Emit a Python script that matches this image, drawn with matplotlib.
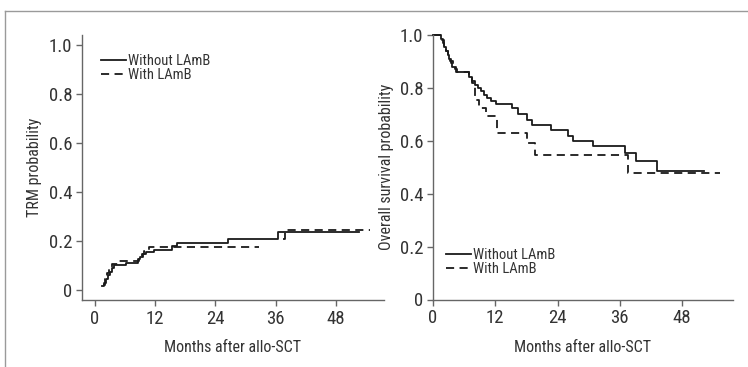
import numpy as np
import matplotlib
matplotlib.use("Agg")
import matplotlib.pyplot as plt
from matplotlib.lines import Line2D

# ---------------- data ----------------
months_ticks = [0, 12, 24, 36, 48]
prob_ticks = [0, 0.2, 0.4, 0.6, 0.8, 1.0]
prob_labels = ["0", "0.2", "0.4", "0.6", "0.8", "1.0"]
series_names = ["Without LAmB", "With LAmB"]

# TRM cumulative incidence (step functions, value after each time)
trm_without_t = [1.3, 1.7, 2.1, 2.5, 2.9, 3.3, 3.7, 6.2, 8.5, 9.0, 9.6, 10.2,
                 11.7, 15.4, 16.3, 26.6, 36.4, 52.6]
trm_without_v = [0.015, 0.03, 0.045, 0.06, 0.075, 0.09, 0.10, 0.112, 0.125,
                 0.135, 0.145, 0.155, 0.162, 0.178, 0.19, 0.21, 0.238, 0.238]

trm_with_t = [1.5, 1.9, 2.3, 2.8, 3.4, 4.6, 8.8, 9.3, 9.8, 10.8, 32.6,
              32.6, 37.4, 37.8, 54.8]
trm_with_v = [0.02, 0.045, 0.07, 0.09, 0.105, 0.12, 0.13, 0.145, 0.16, 0.176, 0.176,
              np.nan, 0.207, 0.245, 0.245]

# Overall survival (Kaplan-Meier)
os_without_t = [0, 1.6, 1.9, 2.2, 2.5, 2.8, 3.1, 3.4, 3.7, 4.2, 4.7, 7.0, 7.5,
                8.0, 8.6, 9.2, 9.8, 10.5, 11.2, 12.1, 15.2, 16.4, 18.1, 19.1,
                22.7, 26.0, 27.0, 30.8, 36.9, 39.1, 43.2, 52.3]
os_without_v = [1.0, 0.985, 0.97, 0.955, 0.94, 0.925, 0.91, 0.895, 0.88, 0.87,
                0.86, 0.84, 0.825, 0.81, 0.80, 0.79, 0.775, 0.76, 0.75, 0.74,
                0.725, 0.70, 0.68, 0.66, 0.64, 0.62, 0.60, 0.58, 0.555, 0.525,
                0.485, 0.485]

os_with_t = [0, 1.7, 2.1, 2.5, 2.9, 3.3, 3.8, 4.4, 7.0, 7.6, 8.1, 8.8, 10.2,
             12.4, 18.1, 19.6, 37.5, 55.2]
os_with_v = [1.0, 0.98, 0.96, 0.94, 0.92, 0.90, 0.88, 0.86, 0.84, 0.82, 0.755,
             0.723, 0.695, 0.63, 0.59, 0.546, 0.478, 0.478]

# ---------------- style ----------------
plt.rcParams["font.family"] = ["Roboto Condensed", "DejaVu Sans"]
txt = "#333333"
spine_c = "#666666"
line_c = "#1a1a1a"
dash = (0, (4.5, 3))

fig = plt.figure(figsize=(7.48, 3.67), dpi=100)

# outer frame lines (top and left)
fig.add_artist(Line2D([5/748, 1.0], [1 - 10.5/367, 1 - 10.5/367],
                      transform=fig.transFigure, color="#9a9a9a", lw=1.0))
fig.add_artist(Line2D([5/748, 5/748], [0, 1 - 10.5/367],
                      transform=fig.transFigure, color="#9a9a9a", lw=1.0))

axL = fig.add_axes([82/748, 1 - 300/367, (384 - 82)/748, (300 - 35)/367])
axR = fig.add_axes([433/748, 1 - 299.5/367, (733 - 433)/748, (299.5 - 35)/367])

def style(ax):
    for s in ["top", "right"]:
        ax.spines[s].set_visible(False)
    for s in ["left", "bottom"]:
        ax.spines[s].set_color(spine_c)
        ax.spines[s].set_linewidth(1.0)
    ax.tick_params(direction="out", length=4, width=1.0, color=spine_c,
                   labelsize=13.5, labelcolor=txt, pad=3)
    ax.set_xticks(months_ticks)
    ax.set_xticklabels([str(m) for m in months_ticks])
    ax.set_yticks(prob_ticks)
    ax.set_yticklabels(prob_labels)
    ax.set_xlabel("Months after allo-SCT", fontsize=11.5, color=txt, labelpad=9)

style(axL)
style(axR)

axL.set_xlim(-2.6, 57.6)
axL.set_ylim(-0.041, 1.041)
axR.set_xlim(0, 57.8)
axR.set_ylim(0, 1.0)

axL.plot(trm_without_t, trm_without_v, drawstyle="steps-post", color=line_c, lw=1.3)
axL.plot(trm_with_t, trm_with_v, drawstyle="steps-post", color=line_c, lw=1.3, linestyle=dash)
axR.plot(os_without_t, os_without_v, drawstyle="steps-post", color=line_c, lw=1.3, clip_on=False)
axR.plot(os_with_t, os_with_v, drawstyle="steps-post", color=line_c, lw=1.3, linestyle=dash, clip_on=False)

axL.set_ylabel("TRM probability", fontsize=11.5, color=txt, labelpad=5)
axR.set_ylabel("Overall survival probability", fontsize=11.5, color=txt, labelpad=4)

h = [Line2D([], [], color=line_c, lw=1.3), Line2D([], [], color=line_c, lw=1.3, linestyle=dash)]
axL.legend(h, series_names, loc="upper left", bbox_to_anchor=(0.045, 0.95), frameon=False,
           fontsize=10.5, handlelength=1.7, handletextpad=0.15, labelspacing=0.0,
           borderaxespad=0, labelcolor=txt)
axR.legend(h, series_names, loc="lower left", bbox_to_anchor=(0.025, 0.065), frameon=False,
           fontsize=10.5, handlelength=1.7, handletextpad=0.1, labelspacing=0.0,
           borderaxespad=0, labelcolor=txt)

fig.savefig("out.png", dpi=100)
